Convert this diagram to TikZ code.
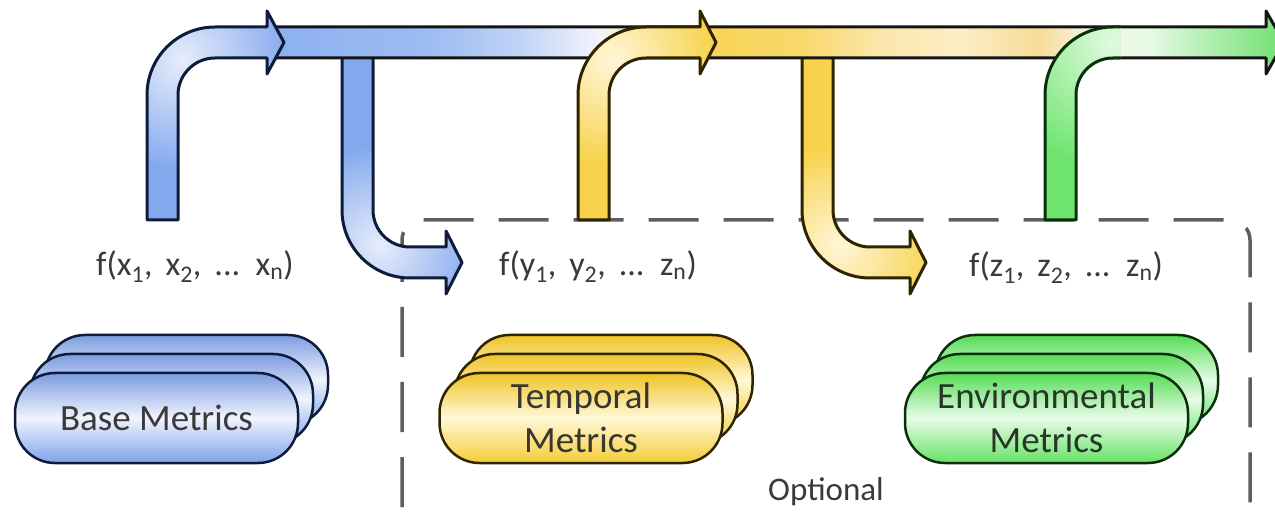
\documentclass[tikz,border=0pt]{standalone}
\usepackage{fontspec}
\setmainfont{Carlito}
\definecolor{blueA}{HTML}{84A8EE}
\definecolor{blueP}{HTML}{E6EDFB}
\definecolor{blueL}{HTML}{0E1C3C}
\definecolor{yelA}{HTML}{F7D24A}
\definecolor{yelP}{HTML}{FFF6D8}
\definecolor{yelL}{HTML}{2E2400}
\definecolor{grnA}{HTML}{6EE46E}
\definecolor{grnP}{HTML}{E0FBE0}
\definecolor{grnL}{HTML}{0A300A}
\definecolor{barL}{HTML}{141414}
\definecolor{dashC}{HTML}{5E5E5E}
\definecolor{txt}{HTML}{3A3A3A}
\definecolor{pBtop}{HTML}{7C9CE0}
\definecolor{pBmid}{HTML}{F0F4FD}
\definecolor{pBbot}{HTML}{7EA2EA}
\definecolor{pYtop}{HTML}{F0C325}
\definecolor{pYmid}{HTML}{FFF8D8}
\definecolor{pYbot}{HTML}{F4CC35}
\definecolor{pGtop}{HTML}{55DC55}
\definecolor{pGmid}{HTML}{E8FCE8}
\definecolor{pGbot}{HTML}{66E266}
\definecolor{bsA}{HTML}{8CB0F0}
\definecolor{bsB}{HTML}{9CBCF2}
\definecolor{bsC}{HTML}{C0D4F6}
\definecolor{bsD}{HTML}{F2F4FB}
\definecolor{bsE}{HTML}{FBE8A8}
\definecolor{bsF}{HTML}{F8D458}
\definecolor{bsG}{HTML}{F9D86A}
\definecolor{bsH}{HTML}{FBE6AC}
\definecolor{bsI}{HTML}{FCEDC4}
\definecolor{bsJ}{HTML}{F8DC98}
\definecolor{bsK}{HTML}{F6F6E8}
\definecolor{bsL}{HTML}{E6FAE6}
\definecolor{bsM}{HTML}{B8F0B8}
\definecolor{bsN}{HTML}{70E070}
\pgfdeclarehorizontalshading{barshade}{100bp}{color(0bp)=(bsA); color(25bp)=(bsA); color(33.1bp)=(bsB); color(37.5bp)=(bsC); color(41.4bp)=(bsD); color(43.9bp)=(bsE); color(47.3bp)=(bsF); color(51.2bp)=(bsG); color(55.2bp)=(bsH); color(59.1bp)=(bsI); color(63bp)=(bsJ); color(65.5bp)=(bsK); color(68.4bp)=(bsL); color(70.9bp)=(bsM); color(75bp)=(bsN); color(100bp)=(bsN)}
\newcommand\widesp{\spaceskip=13pt plus 1pt\relax}
\newcommand\myBU[1]{\path[#1] (147,220) -- (147,95) arc[start angle=180,end angle=270,radius=68] -- (267,27) -- (267,11) -- (284,42.5) -- (267,74) -- (267,58) -- (215,58) arc[start angle=270,end angle=180,radius=37] -- (178,220) -- cycle;}
\newcommand\myYU[1]{\path[#1] (578,220) -- (578,95) arc[start angle=180,end angle=270,radius=68] -- (700,27) -- (700,11) -- (716,42.5) -- (700,74) -- (700,58) -- (646,58) arc[start angle=270,end angle=180,radius=37] -- (609,220) -- cycle;}
\newcommand\myGUfill[1]{\path[#1] (1120,27) -- (1113,27) arc[start angle=270,end angle=180,radius=68] -- (1045,220) -- (1076,220) -- (1076,95) arc[start angle=180,end angle=270,radius=37] -- (1120,58) -- cycle;}
\newcommand\myGUline[1]{\path[#1] (1120,27) -- (1113,27) arc[start angle=270,end angle=180,radius=68] -- (1045,220) -- (1076,220) -- (1076,95) arc[start angle=180,end angle=270,radius=37] -- (1120,58);}
\newcommand\myBD[1]{\path[#1] (342,50) -- (342,210) arc[start angle=180,end angle=90,radius=68] -- (446,278) -- (446,294) -- (462,262.5) -- (446,231) -- (446,247) -- (410,247) arc[start angle=90,end angle=180,radius=37] -- (373,50) -- cycle;}
\newcommand\myYD[1]{\path[#1] (802,50) -- (802,210) arc[start angle=180,end angle=90,radius=68] -- (910,278) -- (910,294) -- (926,262.5) -- (910,231) -- (910,247) -- (870,247) arc[start angle=90,end angle=180,radius=37] -- (833,50) -- cycle;}
\begin{document}
\begin{tikzpicture}[x=1pt,y=-1pt,
  every node/.style={inner sep=0pt,outer sep=0pt},
  outl/.style={line width=3pt,line join=round},
  dashbox/.style={draw=dashC,line width=3.5pt,dash pattern=on 50pt off 25pt,dash phase=52pt,rounded corners=20pt},
  pill/.style={rectangle,rounded corners=40pt,minimum width=283pt,minimum height=90pt,line width=2.5pt,align=center,font=\fontsize{37}{44}\selectfont},
  pillB/.style={pill,draw=blueL,top color=pBtop,bottom color=pBbot,middle color=pBmid,text=txt},
  pillY/.style={pill,draw=yelL,top color=pYtop,bottom color=pYbot,middle color=pYmid,text=txt!80!yelL},
  pillG/.style={pill,draw=grnL,top color=pGtop,bottom color=pGbot,middle color=pGmid,text=txt!60!grnL},
  lbl/.style={font=\fontsize{34}{40}\selectfont\widesp,text=txt}]
\useasboundingbox (0,0) rectangle (1275,521);
\clip (0,0) rectangle (1275,521);
\fill[white] (0,0) rectangle (1275,521);
% optional box
\draw[dashbox] (402,530) -- (402,220) -- (1250,220) -- (1250,530);
% down arrows
\myBD{fill=blueA}
\begin{scope}\myBD{clip}\shade[inner color=blueP,outer color=blueA] (380,245) circle[radius=100];\end{scope}
\myBD{draw=blueL,outl}
\myYD{fill=yelA}
\begin{scope}\myYD{clip}\shade[inner color=yelP,outer color=yelA] (840,245) circle[radius=100];\end{scope}
\myYD{draw=yelL,outl}
% main bar
\path[shading=barshade] (265,27) -- (1266,27) -- (1266,11) -- (1284,42.5) -- (1266,74) -- (1266,58) -- (265,58) -- cycle;
\draw[outl,draw=barL] (265,27) -- (1266,27) -- (1266,11) -- (1284,42.5) -- (1266,74) -- (1266,58) -- (265,58);
% up arrows
\myBU{fill=blueA}
\begin{scope}\myBU{clip}\shade[inner color=blueP,outer color=blueA] (182,60) circle[radius=110];\end{scope}
\myBU{draw=blueL,outl}
\myYU{fill=yelA}
\begin{scope}\myYU{clip}\shade[inner color=yelP,outer color=yelA] (612,60) circle[radius=105];\end{scope}
\myYU{draw=yelL,outl}
\myGUfill{fill=grnA}
\begin{scope}\myGUfill{clip}\shade[inner color=grnP,outer color=grnA] (1112,42) circle[radius=125];\end{scope}
\myGUline{draw=grnL,outl}
% labels
\node[lbl] (fx) at (195,267) {f(x\textsubscript{1}, x\textsubscript{2}, ... x\textsubscript{n})};
\node[lbl] (fy) at (598,267) {f(y\textsubscript{1}, y\textsubscript{2}, ... z\textsubscript{n})};
\node[lbl] (fz) at (1066,268) {f(z\textsubscript{1}, z\textsubscript{2}, ... z\textsubscript{n})};
\node[lbl,font=\fontsize{33}{40}\selectfont] (opt) at (826,492) {Optional};
% pills
\node[pillB] (b3) at (186.5,380) {};
\node[pillB] (b2) at (171.5,399) {};
\node[pillB] (base) at (156.5,418) {Base Metrics};
\node[pillY] (t3) at (611,380) {};
\node[pillY] (t2) at (596,399) {};
\node[pillY] (temp) at (581,418) {Temporal\\Metrics};
\node[pillG] (e3) at (1076.5,380) {};
\node[pillG] (e2) at (1061.5,399) {};
\node[pillG] (env) at (1046.5,418) {Environmental\\Metrics};
\end{tikzpicture}
\end{document}
